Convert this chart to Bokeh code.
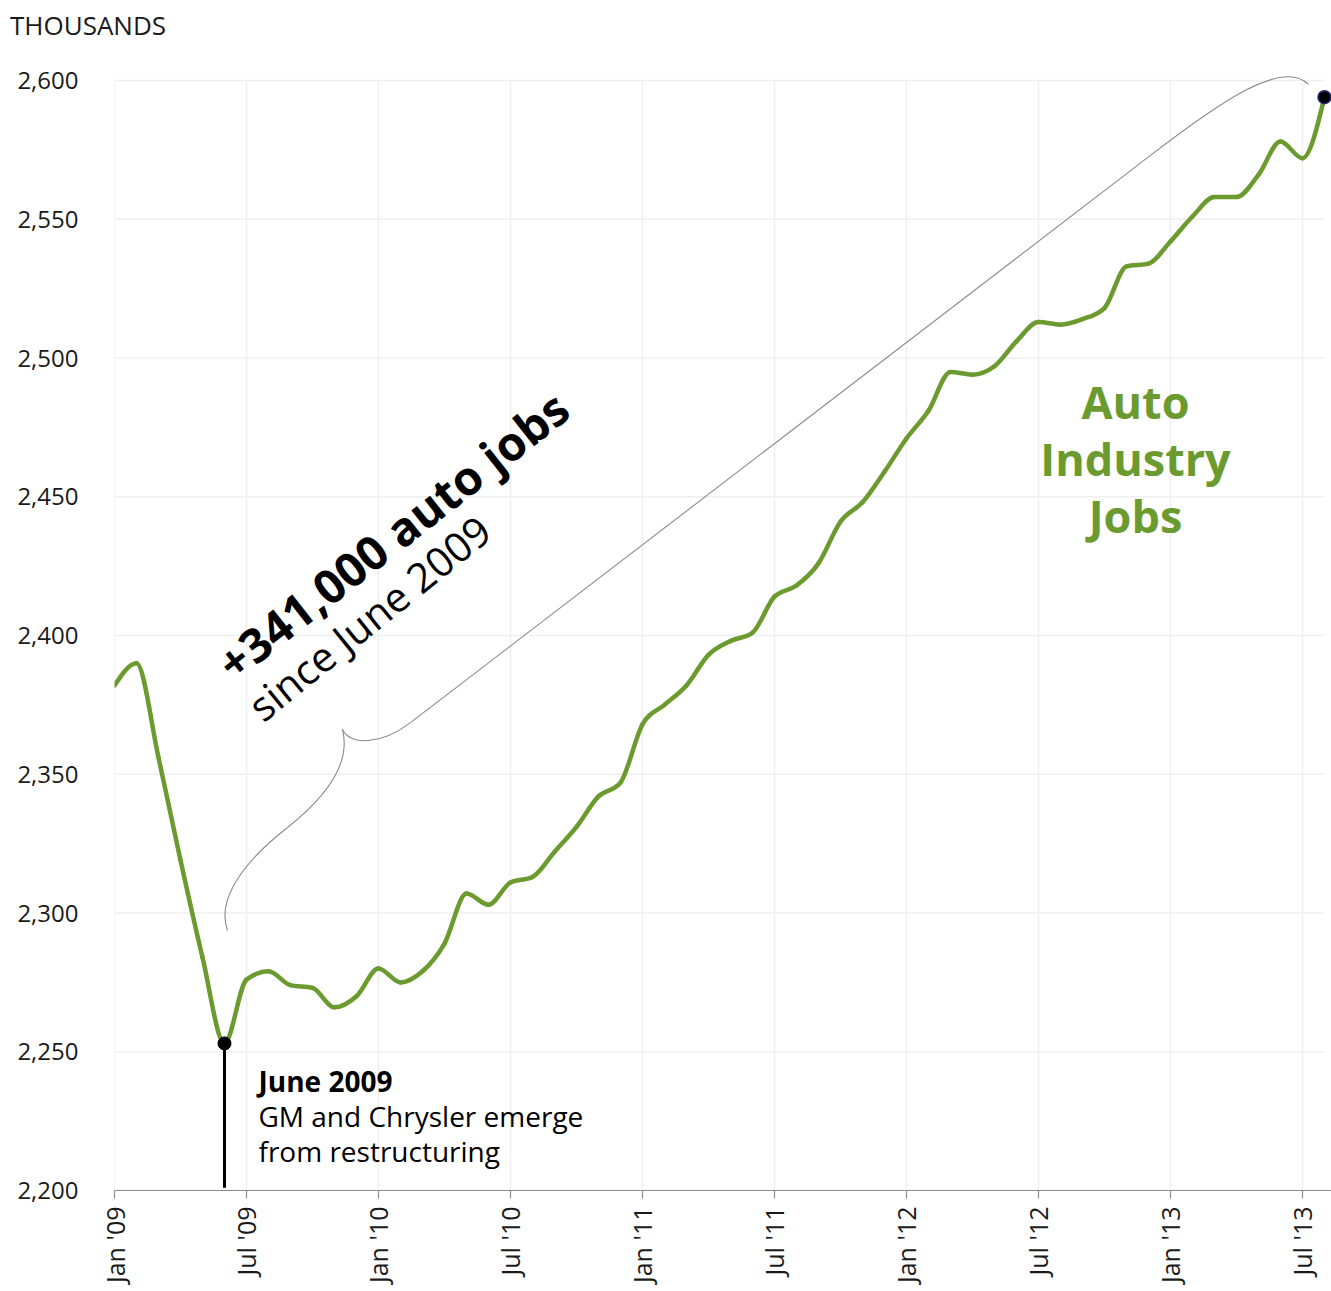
import math
from bokeh.plotting import figure
from bokeh.layouts import column
from bokeh.models import Range1d, FixedTicker, NumeralTickFormatter, Label, Div
from bokeh.embed import file_html
from bokeh.resources import INLINE

# ---------------- data ----------------
month_index = list(range(56))  # 0 = Jan 2009 ... 55 = Aug 2013
auto_jobs = [
    2382, 2390, 2356, 2319, 2284, 2253, 2276, 2279, 2274, 2273, 2266, 2270,
    2280, 2275, 2279, 2289, 2307, 2303, 2311, 2313, 2322, 2331, 2342, 2347,
    2368, 2375, 2382, 2393, 2398, 2401, 2414, 2418, 2426, 2441, 2448, 2459,
    2471, 2481, 2495, 2494, 2497, 2506, 2513, 2512, 2514, 2518, 2533, 2534,
    2542, 2551, 2558, 2558, 2566, 2578, 2572, 2594,
]
tick_months = [0, 6, 12, 18, 24, 30, 36, 42, 48, 54]
tick_labels = ["Jan '09", "Jul '09", "Jan '10", "Jul '10", "Jan '11",
               "Jul '11", "Jan '12", "Jul '12", "Jan '13", "Jul '13"]
y_ticks = [2200, 2250, 2300, 2350, 2400, 2450, 2500, 2550, 2600]
low_month = 5      # June 2009
last_month = 55    # Aug 2013

GREEN = "#6b9a2f"
FONT = "Open Sans"
GRID = "#efefef"

caption = Div(text="THOUSANDS", width=400, height=50, margin=(0, 0, 0, 0),
              styles={"font-family": FONT, "font-size": "26px", "color": "#1a1a1a",
                      "line-height": "50px", "padding-left": "10px",
                      "white-space": "nowrap"})

p = figure(width=1331, height=1241, output_backend="svg", toolbar_location=None,
           x_range=Range1d(0, 55.32), y_range=Range1d(2200, 2602.883),
           min_border_left=114, min_border_right=0, min_border_top=22,
           min_border_bottom=101, margin=(0, 0, 0, 0))
p.outline_line_color = None
p.xgrid.visible = False
p.ygrid.visible = False
p.background_fill_color = "white"
p.border_fill_color = "white"

# grid (drawn so it stops at the data extents)
p.segment(x0=tick_months, x1=tick_months, y0=[y_ticks[0]] * len(tick_months),
          y1=[y_ticks[-1]] * len(tick_months), line_color=GRID, line_width=1.6,
          level="underlay")
p.segment(x0=[0] * len(y_ticks), x1=[last_month] * len(y_ticks), y0=y_ticks, y1=y_ticks,
          line_color=GRID, line_width=1.6, level="underlay")

# axes
p.xaxis.ticker = FixedTicker(ticks=tick_months)
p.xaxis.major_label_overrides = {m: t for m, t in zip(tick_months, tick_labels)}
p.xaxis.major_label_orientation = math.pi / 2
p.xaxis.axis_line_color = "#8c8c8c"
p.xaxis.axis_line_width = 1.2
p.xaxis.major_tick_line_color = "#8c8c8c"
p.xaxis.major_tick_line_width = 1.2
p.xaxis.major_tick_out = 8
p.xaxis.major_tick_in = 0
p.xaxis.minor_tick_line_color = None
p.xaxis.major_label_text_font = FONT
p.xaxis.major_label_text_font_size = "25px"
p.xaxis.major_label_text_color = "#1a1a1a"
p.xaxis.major_label_standoff = 8

p.yaxis.ticker = FixedTicker(ticks=y_ticks)
p.yaxis.formatter = NumeralTickFormatter(format="0,0")
p.yaxis.axis_line_color = None
p.yaxis.major_tick_line_color = None
p.yaxis.minor_tick_line_color = None
p.yaxis.major_label_text_font = FONT
p.yaxis.major_label_text_font_size = "24px"
p.yaxis.major_label_text_color = "#1a1a1a"
p.yaxis.major_label_standoff = 30

# ---------------- smooth (monotone-x) line through the monthly values ----------------
xs = month_index
ys = auto_jobs
n = len(xs)
sl = [(ys[i + 1] - ys[i]) / (xs[i + 1] - xs[i]) for i in range(n - 1)]
tang = [0.0] * n
for i in range(1, n - 1):
    s0, s1 = sl[i - 1], sl[i]
    if s0 * s1 <= 0:
        tang[i] = 0.0
    else:
        h0 = xs[i] - xs[i - 1]
        h1 = xs[i + 1] - xs[i]
        pp = (s0 * h1 + s1 * h0) / (h0 + h1)
        sgn = 1 if s0 > 0 else -1
        tang[i] = sgn * 2 * min(abs(s0), abs(s1), 0.5 * abs(pp))
tang[0] = (3 * sl[0] - tang[1]) / 2
tang[-1] = (3 * sl[-1] - tang[-2]) / 2
bx0, by0, bx1, by1, bcx0, bcy0, bcx1, bcy1 = [], [], [], [], [], [], [], []
for i in range(n - 1):
    d = (xs[i + 1] - xs[i]) / 3
    bx0.append(xs[i]); by0.append(ys[i])
    bx1.append(xs[i + 1]); by1.append(ys[i + 1])
    bcx0.append(xs[i] + d); bcy0.append(ys[i] + d * tang[i])
    bcx1.append(xs[i + 1] - d); bcy1.append(ys[i + 1] - d * tang[i + 1])
p.bezier(x0=bx0, y0=by0, x1=bx1, y1=by1, cx0=bcx0, cy0=bcy0, cx1=bcx1, cy1=bcy1,
         line_color=GREEN, line_width=4.5, line_cap="round")

# ---------------- brace annotation ----------------
BR = "#8a8a8a"
p.bezier(x0=[5.136, 7.864, 10.364, 47.091],
         y0=[2293.7, 2330.8, 2366.1, 2573.0],
         cx0=[4.727, 9.818, 10.727, 50.273],
         cy0=[2302.7, 2343.1, 2360.4, 2592.4],
         cx1=[5.364, 10.727, 12.091, 53.091],
         cy1=[2315.3, 2355.0, 2360.4, 2607.9],
         x1=[7.864, 10.364, 13.455, 54.273],
         y1=[2330.8, 2366.1, 2368.6, 2598.6],
         line_color=BR, line_width=1.1)
p.segment(x0=[13.455], y0=[2368.6], x1=[47.091], y1=[2573.0], line_color=BR, line_width=1.1)

# June 2009 marker line and points
p.segment(x0=[xs[low_month]], y0=[ys[low_month]], x1=[xs[low_month]], y1=[2201],
          line_color="black", line_width=3)
p.scatter(x=[xs[low_month]], y=[ys[low_month]], size=13, fill_color="black",
          line_color="black")
p.scatter(x=[xs[last_month]], y=[ys[last_month]], size=13, fill_color="black",
          line_color="#2a2a7a", line_width=1.5)

# ---------------- texts ----------------
for txt, yy, style in [("June 2009", 2239.6, "bold"),
                       ("GM and Chrysler emerge", 2227.0, "normal"),
                       ("from restructuring", 2214.4, "normal")]:
    p.add_layout(Label(x=6.545, y=yy, text=txt, text_font=FONT,
                       text_font_size="28px", text_font_style=style,
                       text_color="black", text_baseline="alphabetic"))

for txt, yy in [("Auto", 2484.3), ("Industry", 2463.8), ("Jobs", 2443.2)]:
    p.add_layout(Label(x=46.41, y=yy, text=txt, text_font=FONT,
                       text_font_size="45px", text_font_style="bold",
                       text_color=GREEN, text_align="center",
                       text_baseline="alphabetic"))

p.add_layout(Label(x=4.95, y=2388.0, text="+341,000 auto jobs", text_font=FONT,
                   text_font_size="47px", text_font_style="bold", text_color="black",
                   angle=38.3, angle_units="deg", text_baseline="alphabetic"))
p.add_layout(Label(x=6.32, y=2372.8, text="since June 2009", text_font=FONT,
                   text_font_size="41px", text_color="black",
                   angle=39.0, angle_units="deg", text_baseline="alphabetic"))

layout = column(caption, p, spacing=0, margin=(0, 0, 0, 0))
open("out.html", "w").write(file_html(layout, INLINE))
